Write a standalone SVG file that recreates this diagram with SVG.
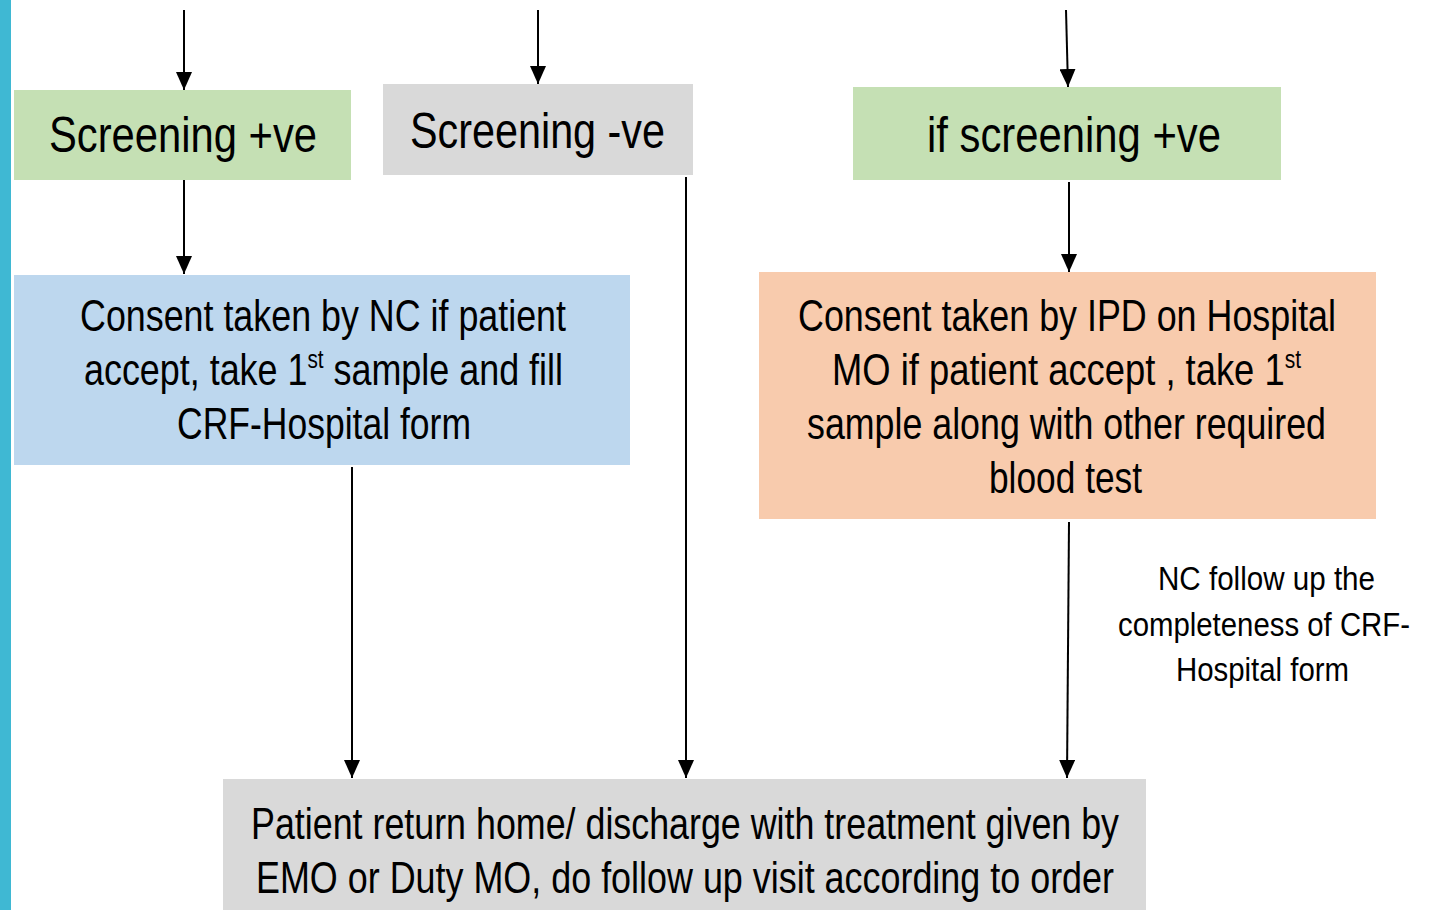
<svg xmlns="http://www.w3.org/2000/svg" width="1429" height="910" viewBox="0 0 1429 910">
<defs>
<marker id="ah" markerWidth="18" markerHeight="16" refX="18" refY="8" orient="auto" markerUnits="userSpaceOnUse" viewBox="0 0 18 16">
<path d="M0,0 L18,8 L0,16 Z" fill="#000"/>
</marker>
<style>
.t{font-family:"Liberation Sans",Arial,sans-serif;fill:#000;}
.big{font-size:50px;}
.mid{font-size:45px;}
.sm{font-size:34px;}
.sup{font-size:26px;}
.c{stroke:#000;stroke-width:2;fill:none;marker-end:url(#ah);}
</style>
</defs>
<rect width="1429" height="910" fill="#fff"/>
<rect x="0" y="0" width="11" height="910" fill="#3fb8d3"/>
<g id="connectors">
<line class="c" x1="184" y1="10" x2="184" y2="90"/>
<line class="c" x1="538" y1="10" x2="538" y2="84"/>
<line class="c" x1="1066" y1="10" x2="1068" y2="87"/>
<line class="c" x1="184" y1="180" x2="184" y2="274"/>
<line class="c" x1="1069" y1="182" x2="1069" y2="272"/>
<line class="c" x1="352" y1="467" x2="352" y2="778"/>
<line class="c" x1="686" y1="177" x2="686" y2="778"/>
<line class="c" x1="1069" y1="522" x2="1067" y2="778"/>
</g>
<g id="screening-pos">
<rect x="14" y="90" width="337" height="90" fill="#c5e0b4"/>
<text class="t big" x="49" y="152" textLength="268" lengthAdjust="spacingAndGlyphs">Screening +ve</text>
</g>
<g id="screening-neg">
<rect x="383" y="84" width="310" height="91" fill="#d9d9d9"/>
<text class="t big" x="410" y="148" textLength="255" lengthAdjust="spacingAndGlyphs">Screening -ve</text>
</g>
<g id="if-screening-pos">
<rect x="853" y="87" width="428" height="93" fill="#c5e0b4"/>
<text class="t big" x="927" y="152" textLength="294" lengthAdjust="spacingAndGlyphs">if screening +ve</text>
</g>
<g id="consent-nc">
<rect x="14" y="275" width="616" height="190" fill="#bdd7ee"/>
<text class="t mid" x="80" y="331" textLength="486" lengthAdjust="spacingAndGlyphs">Consent taken by NC if patient</text>
<text class="t mid" x="84" y="385" textLength="479" lengthAdjust="spacingAndGlyphs">accept, take 1<tspan class="sup" dy="-17">st</tspan><tspan dy="17"> sample and fill</tspan></text>
<text class="t mid" x="177" y="439" textLength="294" lengthAdjust="spacingAndGlyphs">CRF-Hospital form</text>
</g>
<g id="consent-ipd">
<rect x="759" y="272" width="617" height="247" fill="#f8cbad"/>
<text class="t mid" x="798" y="331" textLength="538" lengthAdjust="spacingAndGlyphs">Consent taken by IPD on Hospital</text>
<text class="t mid" x="832" y="385" textLength="469" lengthAdjust="spacingAndGlyphs">MO if patient accept , take 1<tspan class="sup" dy="-17">st</tspan></text>
<text class="t mid" x="807" y="439" textLength="519" lengthAdjust="spacingAndGlyphs">sample along with other required</text>
<text class="t mid" x="989" y="493" textLength="153" lengthAdjust="spacingAndGlyphs">blood test</text>
</g>
<g id="nc-follow-up">
<text class="t sm" x="1158" y="590" textLength="217" lengthAdjust="spacingAndGlyphs">NC follow up the</text>
<text class="t sm" x="1118" y="636" textLength="292" lengthAdjust="spacingAndGlyphs">completeness of CRF-</text>
<text class="t sm" x="1176" y="681" textLength="173" lengthAdjust="spacingAndGlyphs">Hospital form</text>
</g>
<g id="patient-return">
<rect x="223" y="779" width="923" height="131" fill="#d9d9d9"/>
<text class="t mid" x="251" y="839" textLength="868" lengthAdjust="spacingAndGlyphs">Patient return  home/ discharge with treatment  given by</text>
<text class="t mid" x="256" y="893" textLength="858" lengthAdjust="spacingAndGlyphs">EMO or Duty MO, do follow up visit according to order</text>
</g>
</svg>
